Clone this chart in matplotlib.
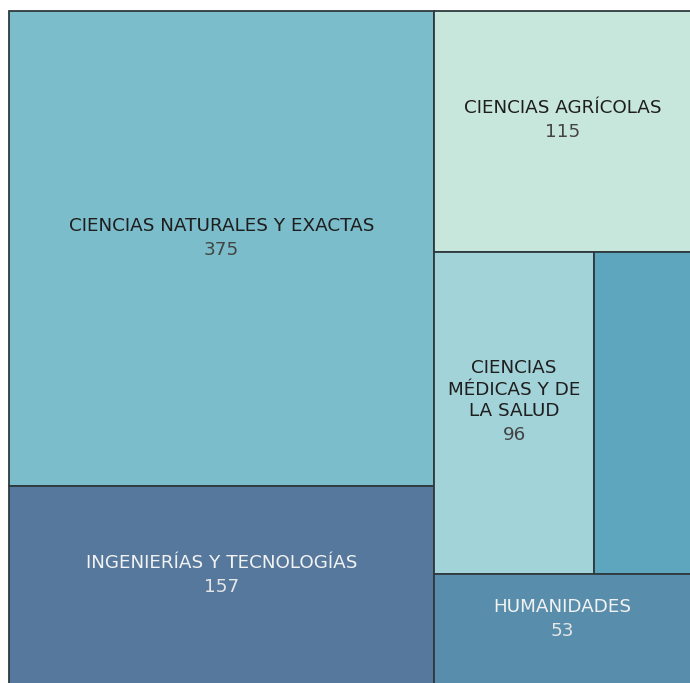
import math
import matplotlib
matplotlib.use("Agg")
import matplotlib.pyplot as plt
from matplotlib.patches import Rectangle

# ---- data ----
labels = ["CIENCIAS NATURALES Y EXACTAS", "INGENIERÍAS Y TECNOLOGÍAS",
          "CIENCIAS AGRÍCOLAS", "CIENCIAS\nMÉDICAS Y DE\nLA SALUD", "", "HUMANIDADES"]
values = [375, 157, 115, 96, 58, 53]
show_text = [True, True, True, True, False, True]
colors = ["#7bbdcb", "#55789c", "#c8e7dc", "#a2d3d8", "#5ea6be", "#588eab"]
text_colors = ["#1e1e1e", "#f2f2f2", "#1e1e1e", "#1e1e1e", "#1e1e1e", "#f2f2f2"]
num_colors = ["#444444", "#e6e6e6", "#444444", "#444444", "#444444", "#e6e6e6"]

W, H = 682.0, 674.0
PHI = (1 + math.sqrt(5)) / 2


def squarify(vals, x0, y0, x1, y1, ratio=PHI):
    rects = [None] * len(vals)
    order = sorted(range(len(vals)), key=lambda i: -vals[i])
    nodes = [vals[i] for i in order]
    n = len(nodes)
    value = float(sum(nodes))
    i0 = i1 = 0
    while i0 < n:
        dx, dy = x1 - x0, y1 - y0
        s = nodes[i1]; i1 += 1
        mn = mx = s
        alpha = max(dy / dx, dx / dy) / (value * ratio)
        beta = s * s * alpha
        min_ratio = max(mx / beta, beta / mn)
        while i1 < n:
            nv = nodes[i1]
            s += nv
            mn = min(mn, nv); mx = max(mx, nv)
            beta = s * s * alpha
            nr = max(mx / beta, beta / mn)
            if nr > min_ratio:
                s -= nv
                break
            min_ratio = nr
            i1 += 1
        row = list(range(i0, i1))
        if dx < dy:  # dice: horizontal row at top
            yb = y0 + dy * s / value
            xx = x0
            for j in row:
                w = dx * nodes[j] / s
                rects[order[j]] = (xx, y0, w, yb - y0)
                xx += w
            y0 = yb
        else:  # slice: vertical column at left
            xb = x0 + dx * s / value
            yy = y0
            for j in row:
                h = dy * nodes[j] / s
                rects[order[j]] = (x0, yy, xb - x0, h)
                yy += h
            x0 = xb
        value -= s
        i0 = i1
    return rects


rects = squarify(values, 0, 0, W, H)

fig = plt.figure(figsize=(6.9, 6.83), dpi=100)
fig.patch.set_facecolor("white")
ax = fig.add_axes([9 / 690, (683 - 685) / 683, W / 690, H / 683])
ax.set_xlim(0, W)
ax.set_ylim(H, 0)
ax.axis("off")

for (x, y, w, h), lab, v, show, c, tc, nc in zip(rects, labels, values, show_text,
                                                  colors, text_colors, num_colors):
    ax.add_patch(Rectangle((x, y), w, h, facecolor=c, edgecolor="#2e3a3d",
                           linewidth=1.3, clip_on=False))
    if not show:
        continue
    lines = lab.split("\n")
    nl = len(lines)
    lh = 21.5
    gap = 24
    block = (nl - 1) * lh + gap
    cx = x + w / 2
    cy = y + h / 2 - 11
    top = cy - block / 2
    for k, line in enumerate(lines):
        ax.text(cx, top + k * lh, line, ha="center", va="center",
                fontsize=13.2, color=tc, family="DejaVu Sans")
    ax.text(cx, top + (nl - 1) * lh + gap, str(v), ha="center", va="center",
            fontsize=13.2, color=nc, family="DejaVu Sans")

fig.savefig("out.png", dpi=100)
